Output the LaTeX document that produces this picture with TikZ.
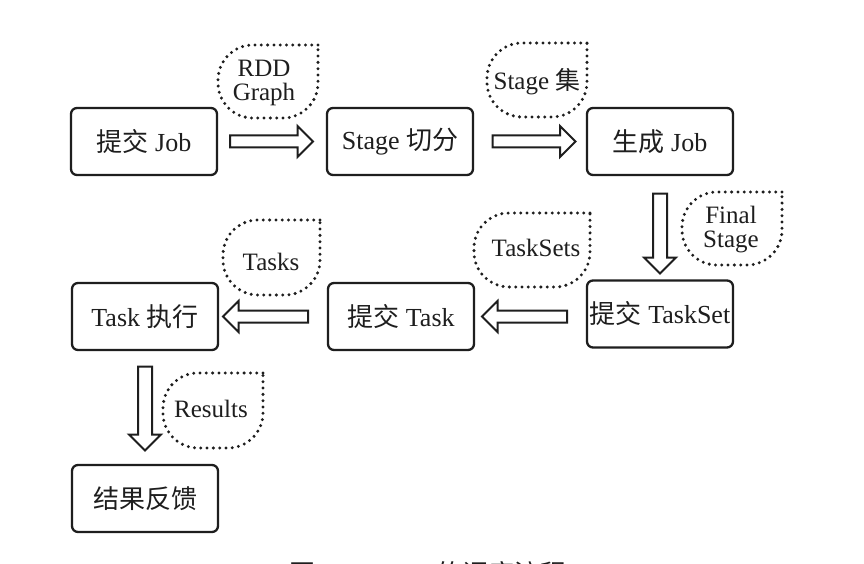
\documentclass[tikz,border=0pt]{standalone}
\usepackage{fontspec}
\setmainfont{Liberation Serif}
\newfontfamily\cjk{Noto Sans CJK SC}
\usetikzlibrary{shapes.arrows}
\newcommand{\zh}[1]{{\cjk #1}}
\definecolor{ink}{RGB}{30,30,30}
\tikzset{
  box/.style={draw=ink, line width=2.3pt, rounded corners=6pt, minimum width=146pt,
    minimum height=67pt, inner sep=0pt, text=ink, font=\fontsize{26}{28}\selectfont},
  bigarrow/.style={single arrow, draw=ink, line width=2pt, fill=white,
    minimum width=0pt, inner sep=5pt, single arrow head extend=9.5pt,
    single arrow head indent=0pt, single arrow tip angle=90},
  varrow/.style={bigarrow, inner sep=6pt, single arrow head extend=9pt},
  bubble/.style={draw=ink, line width=3.3pt, line cap=round, dash pattern=on 0pt off 6.3pt,
    rounded corners=35pt},
  btext/.style={text=ink, align=center, inner sep=0pt, font=\fontsize{25}{26}\selectfont},
  captext/.style={text=ink, inner sep=0pt, anchor=north, font=\fontsize{26}{28}\selectfont}
}
\begin{document}
\begin{tikzpicture}[x=1pt,y=-1pt]
\useasboundingbox[fill=white] (0,0) rectangle (864,564);

% boxes
\node[box] (job)  at (144,141.5) {\zh{提交} Job};
\node[box] (stg)  at (400,141.5) {Stage \zh{切分}};
\node[box] (gen)  at (660,141.5) {\zh{生成} Job};
\node[box] (tset) at (660,314)   {\zh{提交} TaskSet};
\node[box] (stsk) at (401,316.5) {\zh{提交} Task};
\node[box] (exec) at (145,316.5) {Task \zh{执行}};
\node[box] (res)  at (145,498.5) {\zh{结果反馈}};

% block arrows between boxes
\node[bigarrow, minimum height=83pt] (a1) at (268.5,141.5) {};
\node[bigarrow, minimum height=83pt] (a2) at (531,141.5) {};
\node[varrow, minimum height=80pt, rotate=270] (a3) at (660,230) {};
\node[bigarrow, minimum height=85pt, rotate=180] (a4) at (527.5,316.5) {};
\node[bigarrow, minimum height=85pt, rotate=180] (a5) at (268.5,316.5) {};
\node[varrow, minimum height=84pt, rotate=270] (a6) at (145,405) {};

% bubble labels
\node[btext] (lrdd) at (264,83) {RDD\\[-2pt]Graph};
\draw[bubble] (318,45) -- (218,45) -- (218,118) -- (318,118) -- (318,45);

\node[btext] (lstg) at (537,82) {Stage \zh{集}};
\draw[bubble] (587,43) -- (487,43) -- (487,117) -- (587,117) -- (587,43);

\node[btext] (lfin) at (731,230) {Final\\[-2pt]Stage};
\draw[bubble] (782,192) -- (682,192) -- (682,265) -- (782,265) -- (782,192);

\node[btext] (lts) at (536,248) {TaskSets};
\draw[bubble] (590,213) -- (474,213) -- (474,287) -- (590,287) -- (590,213);

\node[btext] (lt) at (271,262) {Tasks};
\draw[bubble] (320,220) -- (223,220) -- (223,295) -- (320,295) -- (320,220);

\node[btext] (lres) at (211,409) {Results};
\draw[bubble] (263,373) -- (163,373) -- (163,448) -- (263,448) -- (263,373);

% caption, cut by the page edge as in the scan
\begin{scope}
\clip (0,0) rectangle (864,564);
\node[captext] (caption) at (428,561.5) {\zh{图}\hspace{20pt}3-1\hspace{22pt}Job\hspace{8pt}\zh{的调度流程}};
\end{scope}
\end{tikzpicture}
\end{document}
